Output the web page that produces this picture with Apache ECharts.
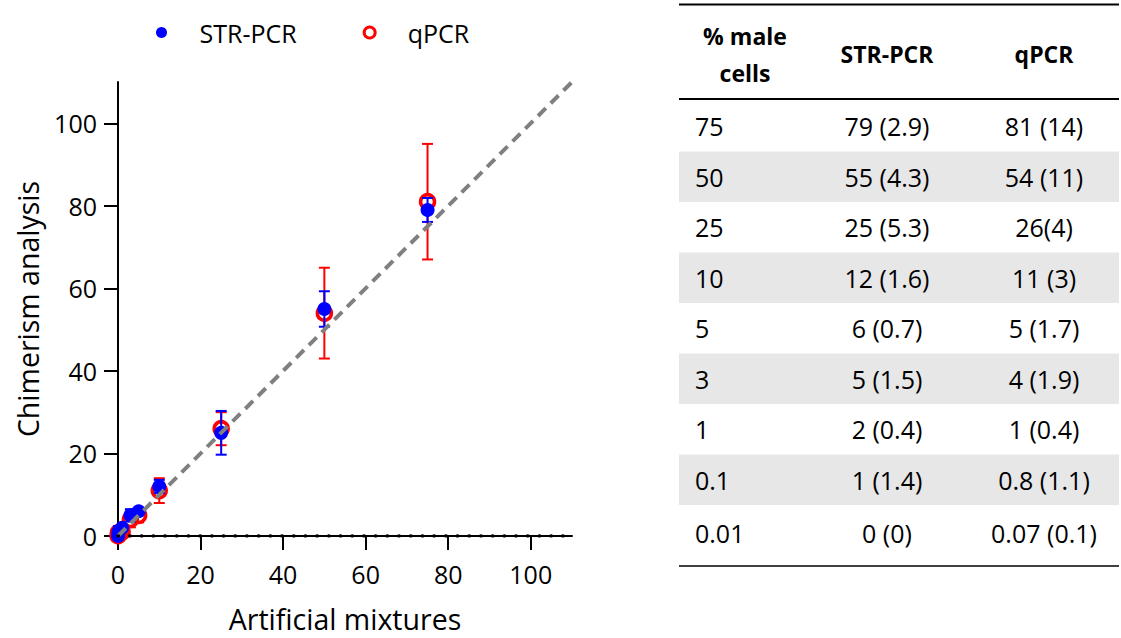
<!DOCTYPE html>
<html>
<head>
<meta charset="utf-8">
<script src="https://cdn.jsdelivr.net/npm/echarts@6/dist/echarts.min.js"></script>
<style>
  html, body { margin: 0; padding: 0; background: #fff; }
  #chart { width: 1121px; height: 638px; }
</style>
</head>
<body>
<div id="chart"></div>
<script>
// % male cells in the artificial mixtures
const pctMale = [75, 50, 25, 10, 5, 3, 1, 0.1, 0.01];
// STR-PCR mean (SD)
const strMean = [79, 55, 25, 12, 6, 5, 2, 1, 0];
const strSd = [2.9, 4.3, 5.3, 1.6, 0.7, 1.5, 0.4, 1.4, 0];
// qPCR mean (SD)
const qMean = [81, 54, 26, 11, 5, 4, 1, 0.8, 0.07];
const qSd = [14, 11, 4, 3, 1.7, 1.9, 0.4, 1.1, 0.1];

// table texts
const tableHead = ['% male\ncells', 'STR-PCR', 'qPCR'];
const pctCells = ['75', '50', '25', '10', '5', '3', '1', '0.1', '0.01'];
const strCells = ['79 (2.9)', '55 (4.3)', '25 (5.3)', '12 (1.6)', '6 (0.7)', '5 (1.5)', '2 (0.4)', '1 (1.4)', '0 (0)'];
const qCells = ['81 (14)', '54 (11)', '26(4)', '11 (3)', '5 (1.7)', '4 (1.9)', '1 (0.4)', '0.8 (1.1)', '0.07 (0.1)'];

// axis ticks
const tickValues = [0, 20, 40, 60, 80, 100];
const axisMax = 110;

const FONT = '"Open Sans", "Liberation Sans", sans-serif';
const BLUE = '#0000ff';
const RED = '#ff0000';

const myChart = echarts.init(document.getElementById('chart'), null, { renderer: 'svg' });

// error bars: value = [x, mean, sd]
function errorBar(color) {
    return function (params, api) {
        const x = api.value(0), m = api.value(1), sd = api.value(2);
        const top = api.coord([x, m + sd]);
        const bot = api.coord([x, m - sd]);
        const half = 5.5;
        const style = { stroke: color, lineWidth: 2 };
        return {
            type: 'group',
            children: [
                { type: 'line', shape: { x1: top[0], y1: top[1], x2: bot[0], y2: bot[1] }, style: style },
                { type: 'line', shape: { x1: top[0] - half, y1: top[1], x2: top[0] + half, y2: top[1] }, style: style },
                { type: 'line', shape: { x1: bot[0] - half, y1: bot[1], x2: bot[0] + half, y2: bot[1] }, style: style }
            ]
        };
    };
}

// table drawn as graphic elements
const tLeft = 679, tRight = 1119;
const colX = [695, 887, 1044];
const rowTop = 101, rowH = 50.5;
const table = [];
pctCells.forEach(function (p, i) {
    const cy = rowTop + rowH * (i + 0.5) + (i === pctCells.length - 1 ? 3 : 0);
    if (i % 2 === 1) {
        table.push({ type: 'rect', shape: { x: tLeft, y: rowTop + rowH * i, width: tRight - tLeft, height: rowH },
            style: { fill: '#e7e7e7' }, z: 0 });
    }
    [p, strCells[i], qCells[i]].forEach(function (t, j) {
        table.push({ type: 'text', x: colX[j], y: cy, z: 2,
            style: { text: t, fontFamily: FONT, fontSize: 25, fill: '#000',
                align: j === 0 ? 'left' : 'center', verticalAlign: 'middle' } });
    });
});
[[4.5, 2], [99, 2], [566, 1.5]].forEach(function (r) {
    table.push({ type: 'line', z: 3, shape: { x1: tLeft, y1: r[0], x2: tRight, y2: r[0] },
        style: { stroke: '#000', lineWidth: r[1] } });
});
const headX = [745, 887, 1044];
tableHead.forEach(function (h, j) {
    table.push({ type: 'text', x: headX[j], y: 54, z: 2,
        style: { text: h, fontFamily: FONT, fontSize: 23, fontWeight: 'bold', fill: '#000',
            align: 'center', verticalAlign: 'middle', lineHeight: 37 } });
});

const axisCommon = {
    type: 'value',
    min: 0,
    max: axisMax,
    nameLocation: 'middle',
    nameTextStyle: { fontFamily: FONT, fontSize: 28.5, color: '#000' },
    axisLine: { show: true, onZero: false, lineStyle: { color: '#000', width: 2 } },
    axisTick: { show: true, length: 14, customValues: tickValues, lineStyle: { color: '#000', width: 2 } },
    axisLabel: { customValues: tickValues, fontFamily: FONT, fontSize: 25, color: '#000' },
    splitLine: { show: false }
};

const option = {
    animation: false,
    textStyle: { fontFamily: FONT },
    grid: { left: 118, right: 549, top: 82, bottom: 100 },
    legend: {
        left: 156,
        top: 20,
        padding: 0,
        itemGap: 66,
        itemWidth: 66,
        itemHeight: 11,
        textStyle: { fontFamily: FONT, fontSize: 25, color: '#000' },
        data: [
            { name: 'STR-PCR', icon: 'circle', itemStyle: { color: BLUE } },
            { name: 'qPCR', icon: 'circle', itemStyle: { color: '#fff', borderColor: RED, borderWidth: 3 } }
        ]
    },
    xAxis: Object.assign({}, axisCommon, {
        name: 'Artificial mixtures',
        nameGap: 68,
        axisLabel: Object.assign({}, axisCommon.axisLabel, { margin: 25 })
    }),
    yAxis: Object.assign({}, axisCommon, {
        name: 'Chimerism analysis',
        nameGap: 76,
        axisLabel: Object.assign({}, axisCommon.axisLabel, { margin: 21 })
    }),
    graphic: { elements: table },
    series: [
        {
            name: 'qPCR err',
            type: 'custom',
            z: 2,
            renderItem: errorBar(RED),
            data: pctMale.map(function (x, i) { return [x, qMean[i], qSd[i]]; })
        },
        {
            name: 'qPCR',
            type: 'scatter',
            z: 3,
            symbol: 'circle',
            symbolSize: 14,
            itemStyle: { color: '#fff', borderColor: RED, borderWidth: 3.5, opacity: 1 },
            data: pctMale.map(function (x, i) { return [x, qMean[i]]; })
        },
        {
            name: 'STR-PCR err',
            type: 'custom',
            z: 4,
            renderItem: errorBar(BLUE),
            data: pctMale.map(function (x, i) { return [x, strMean[i], strSd[i]]; })
        },
        {
            name: 'STR-PCR',
            type: 'scatter',
            z: 5,
            symbol: 'circle',
            symbolSize: 14,
            itemStyle: { color: BLUE, opacity: 1 },
            data: pctMale.map(function (x, i) { return [x, strMean[i]]; })
        },
        {
            // line of identity
            name: 'identity',
            type: 'line',
            z: 6,
            symbol: 'none',
            silent: true,
            lineStyle: { color: '#808080', width: 4, type: [11, 7] },
            data: [[0, 0], [axisMax, axisMax]]
        },
        {
            // dotted zero line
            name: 'zero',
            type: 'line',
            z: 7,
            symbol: 'none',
            silent: true,
            lineStyle: { color: '#000', width: 3.5, type: [0.5, 11.2], cap: 'round' },
            data: [[0, 0], [axisMax, 0]]
        }
    ]
};
myChart.setOption(option);
</script>
</body>
</html>
